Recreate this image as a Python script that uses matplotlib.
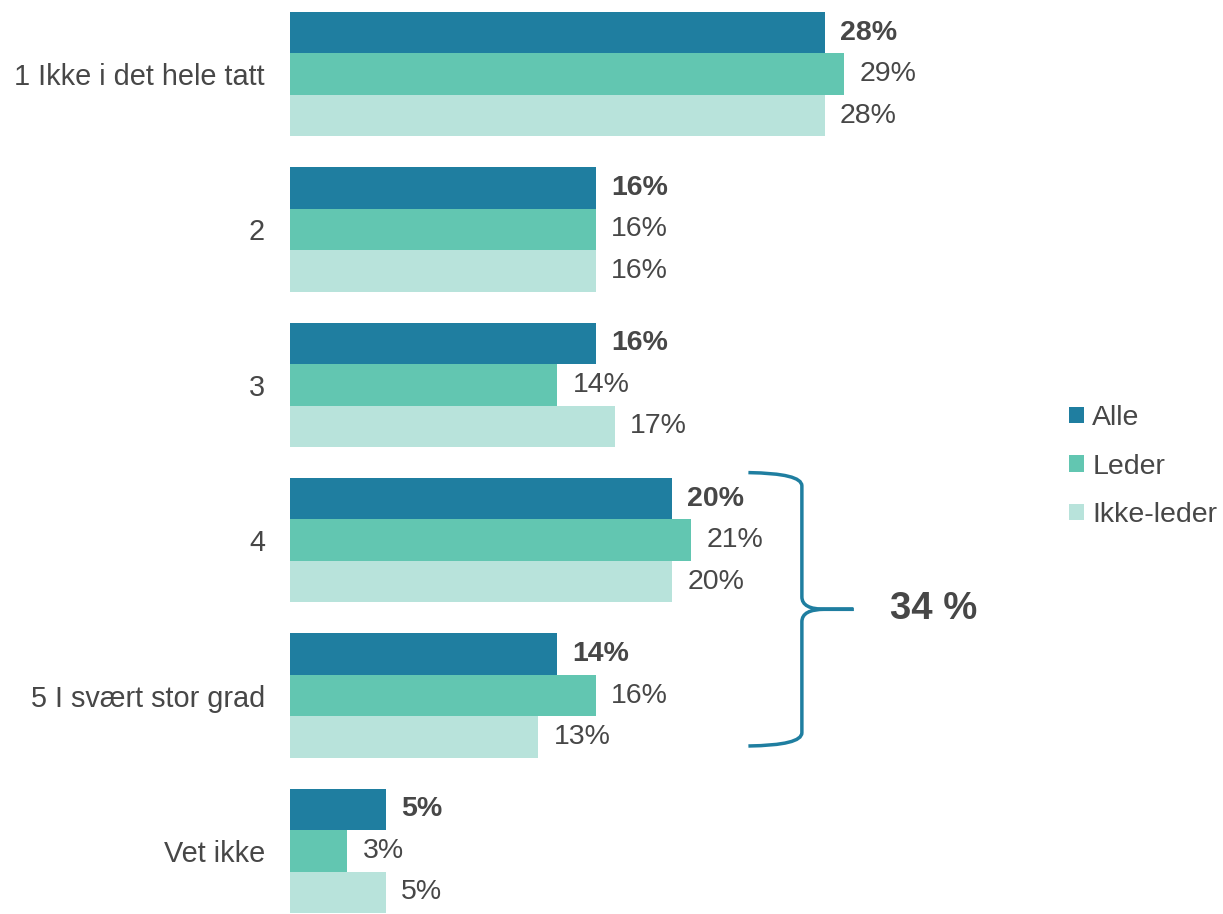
import matplotlib
matplotlib.use('Agg')
import matplotlib.pyplot as plt
from matplotlib.patches import PathPatch, Patch
from matplotlib.path import Path
import numpy as np

plt.rcParams['font.family'] = ['Liberation Sans', 'DejaVu Sans']

categories = ["1 Ikke i det hele tatt", "2", "3", "4", "5 I svært stor grad", "Vet ikke"]
series_names = ["Alle", "Leder", "Ikke-leder"]
alle = [28, 16, 16, 20, 14, 5]
leder = [29, 16, 14, 21, 16, 3]
ikke_leder = [28, 16, 17, 20, 13, 5]
colors = ["#1F7EA0", "#62C6B1", "#B8E3DB"]
brace_label = "34 %"

text_color = "#474747"

fig = plt.figure(figsize=(12.23, 9.14), dpi=100)
ax = fig.add_axes([290 / 1223, 1 / 914, 764 / 1223, 901 / 914])

y = np.arange(len(categories))
bar_h = 0.8 / 3
for i, (vals, col) in enumerate(zip([alle, leder, ikke_leder], colors)):
    pos = y - bar_h + i * bar_h
    ax.barh(pos, vals, height=bar_h, color=col, label=series_names[i])
    for p, v in zip(pos, vals):
        ax.annotate(f"{v}%", (v, p), xytext=(11, 0), textcoords="offset points",
                    va="center", ha="left", fontsize=20.5, color=text_color,
                    fontweight="bold" if i == 0 else "normal")

ax.set_xlim(0, 40)
ax.set_ylim(len(categories) - 0.6, -0.4)
ax.set_yticks(y)
ax.set_yticklabels(categories, fontsize=20.8, color=text_color)
ax.tick_params(axis="y", length=0, pad=18)
ax.set_xticks([])
for s in ax.spines.values():
    s.set_visible(False)

# curly brace around groups 4 and 5
xv, xl, xt = 26.8, 24.0, 29.5
yt, yb = 2.57, 4.32
ym = (yt + yb) / 2
dy = 0.08
verts = [(xl, yt - 0.005), (xv, yt), (xv, yt + dy),
         (xv, ym - dy), (xv, ym), (xv + 1.2, ym),
         (xt, ym), (xv + 1.2, ym),
         (xv, ym), (xv, ym + dy),
         (xv, yb - dy), (xv, yb), (xl, yb + 0.005)]
codes = [Path.MOVETO, Path.CURVE3, Path.CURVE3,
         Path.LINETO, Path.CURVE3, Path.CURVE3,
         Path.LINETO, Path.LINETO,
         Path.CURVE3, Path.CURVE3,
         Path.LINETO, Path.CURVE3, Path.CURVE3]
ax.add_patch(PathPatch(Path(verts, codes), fill=False, edgecolor=colors[0],
                       lw=2.5, clip_on=False))
ax.text(31.4, ym, brace_label, fontsize=27.5, fontweight="bold", color=text_color,
        va="center", ha="left")

handles = [Patch(facecolor=c, edgecolor="none") for c in colors]
leg = fig.legend(handles, series_names, loc="upper left",
                 bbox_to_anchor=(1058 / 1223, 1 - 394 / 914), frameon=False,
                 fontsize=20.5, handlelength=0.5, handleheight=0.5,
                 handletextpad=0.3, labelspacing=0.78, borderaxespad=0)
for t in leg.get_texts():
    t.set_color(text_color)

fig.savefig("out.png", dpi=100)
